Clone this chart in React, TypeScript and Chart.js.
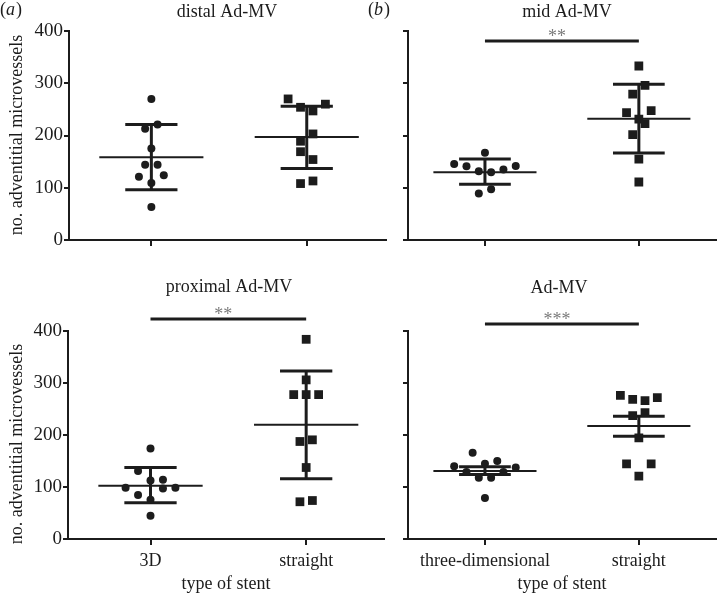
import React, { useEffect, useRef } from "react";
import { Chart, registerables } from "chart.js";

Chart.register(...registerables);

const FONT = "'Liberation Serif', 'Times New Roman', serif";
const INK = "#1c1c1c";
const STAR = "#7a7a7a";

// ---------- data ----------
const yTicks = [0, 100, 200, 300, 400];
const proximalCategories = ["3D", "straight"];
const adMVCategories = ["three-dimensional", "straight"];
const xAxisTitle = "type of stent";
const yAxisTitle = "no. adventitial microvessels";

const distal3D = [270, 213, 221, 175, 144, 144, 121, 124, 109, 63];
const distal3DJitter = [0, -0.04, 0.04, 0, -0.04, 0.04, -0.08, 0.08, 0, 0];
const distalStraight = [270, 254, 247, 260, 203, 189, 169, 154, 108, 113];
const distalStraightJitter = [-0.12, -0.04, 0.04, 0.12, 0.04, -0.04, -0.04, 0.04, -0.04, 0.04];
const distalMean = [158.5, 197];
const distalLow = [96, 137];
const distalHigh = [221, 256];

const mid3D = [167, 145.5, 141, 131.5, 129.5, 135, 141.6, 89, 97];
const mid3DJitter = [0, -0.2, -0.12, -0.04, 0.04, 0.12, 0.2, -0.04, 0.04];
const midStraight = [333, 296, 279, 244, 247.5, 231.5, 222.6, 201.5, 155, 111];
const midStraightJitter = [0, 0.04, -0.04, -0.08, 0.08, 0, 0.04, -0.04, 0, 0];
const midMean = [129.5, 232];
const midLow = [106.6, 166.5];
const midHigh = [155, 298];
const midSignificance = 381;

const proximal3D = [174, 130.6, 112.6, 114, 98.5, 97, 98.5, 84.5, 75.5, 44.7];
const proximal3DJitter = [0, -0.08, 0, 0.08, -0.16, 0.08, 0.16, -0.08, 0, 0];
const proximalStraight = [384, 306, 277.7, 277.7, 277.7, 187.5, 190.7, 137.5, 71.6, 74];
const proximalStraightJitter = [0, 0, -0.08, 0, 0.08, -0.04, 0.04, 0, -0.04, 0.04];
const proximalMean = [102.3, 219.5];
const proximalLow = [69.7, 115.8];
const proximalHigh = [137.5, 323];
const proximalSignificance = 423;

const adMV3D = [166, 140, 144.6, 150, 137.5, 129, 129, 118, 118, 79];
const adMV3DJitter = [-0.08, -0.2, 0, 0.08, 0.2, -0.12, 0.12, -0.04, 0.04, 0];
const adMVStraight = [276, 268.6, 266, 272, 237.3, 243, 194.5, 144.6, 144.6, 121];
const adMVStraightJitter = [-0.12, -0.04, 0.04, 0.12, -0.04, 0.04, 0, -0.08, 0.08, 0];
const adMVMean = [131, 217.5];
const adMVLow = [124, 197.8];
const adMVHigh = [139, 236];
const adMVSignificance = 413.6;

// ---------- panels (layout) ----------
const W = 722;
const H = 595;
const MEAN_HALF = 0.335;
const WHISKER_HALF = 0.168;

type Panel = {
  title: string;
  titleX: number;
  titleBase: number;
  letter?: string;
  letterX?: number;
  area: { left: number; right: number; top: number; bottom: number };
  xMin: number;
  xMax: number;
  labels: string[] | null;
  yLabels: boolean;
  yTitleY: number | null;
  g1: number[];
  j1: number[];
  g2: number[];
  j2: number[];
  mean: number[];
  low: number[];
  high: number[];
  sig: number | null;
  stars: string;
};

const panels: Panel[] = [
  {
    title: "distal Ad-MV", titleX: 227, titleBase: 17, letter: "a", letterX: 0,
    area: { left: 69, right: 386, top: 31, bottom: 240 }, xMin: -0.53, xMax: 1.51,
    labels: null, yLabels: true, yTitleY: 135,
    g1: distal3D, j1: distal3DJitter, g2: distalStraight, j2: distalStraightJitter,
    mean: distalMean, low: distalLow, high: distalHigh, sig: null, stars: "",
  },
  {
    title: "mid Ad-MV", titleX: 567, titleBase: 17, letter: "b", letterX: 368,
    area: { left: 408, right: 722, top: 31, bottom: 240 }, xMin: -0.5, xMax: 1.5,
    labels: null, yLabels: false, yTitleY: null,
    g1: mid3D, j1: mid3DJitter, g2: midStraight, j2: midStraightJitter,
    mean: midMean, low: midLow, high: midHigh, sig: midSignificance, stars: "**",
  },
  {
    title: "proximal Ad-MV", titleX: 229, titleBase: 292,
    area: { left: 68, right: 384, top: 331, bottom: 539 }, xMin: -0.53, xMax: 1.5,
    labels: proximalCategories, yLabels: true, yTitleY: 444,
    g1: proximal3D, j1: proximal3DJitter, g2: proximalStraight, j2: proximalStraightJitter,
    mean: proximalMean, low: proximalLow, high: proximalHigh, sig: proximalSignificance, stars: "**",
  },
  {
    title: "Ad-MV", titleX: 559, titleBase: 293,
    area: { left: 408, right: 722, top: 331, bottom: 539 }, xMin: -0.5, xMax: 1.5,
    labels: adMVCategories, yLabels: false, yTitleY: null,
    g1: adMV3D, j1: adMV3DJitter, g2: adMVStraight, j2: adMVStraightJitter,
    mean: adMVMean, low: adMVLow, high: adMVHigh, sig: adMVSignificance, stars: "***",
  },
];

function seg(points: { x: number; y: number }[], width: number, clip = true) {
  return {
    data: points,
    showLine: true,
    pointRadius: 0,
    borderColor: INK,
    backgroundColor: INK,
    borderWidth: width,
    fill: false,
    order: 1,
    clip: clip ? undefined : false,
  } as any;
}

function buildDatasets(p: Panel) {
  const ds: any[] = [];
  ds.push({
    data: p.g1.map((v, i) => ({ x: 0 + p.j1[i], y: v })),
    pointStyle: "circle",
    pointRadius: 4,
    backgroundColor: INK,
    borderWidth: 0,
    order: 0,
  });
  ds.push({
    data: p.g2.map((v, i) => ({ x: 1 + p.j2[i], y: v })),
    pointStyle: "rect",
    pointRadius: 6.2,
    backgroundColor: INK,
    borderWidth: 0,
    order: 0,
  });
  for (let c = 0; c < 2; c++) {
    ds.push(seg([{ x: c - MEAN_HALF, y: p.mean[c] }, { x: c + MEAN_HALF, y: p.mean[c] }], 2));
    ds.push(seg([{ x: c, y: p.low[c] }, { x: c, y: p.high[c] }], 3));
    ds.push(seg([{ x: c - WHISKER_HALF, y: p.high[c] }, { x: c + WHISKER_HALF, y: p.high[c] }], 3));
    ds.push(seg([{ x: c - WHISKER_HALF, y: p.low[c] }, { x: c + WHISKER_HALF, y: p.low[c] }], 3));
  }
  if (p.sig !== null) {
    ds.push(seg([{ x: 0, y: p.sig }, { x: 1, y: p.sig }], 3, false));
  }
  return ds;
}

function makeTextPlugin(p: Panel) {
  return {
    id: "panelText",
    afterDraw(chart: any) {
      const ctx = chart.ctx as CanvasRenderingContext2D;
      ctx.save();
      ctx.fillStyle = INK;
      ctx.textBaseline = "alphabetic";
      // panel title
      ctx.font = `18px ${FONT}`;
      ctx.textAlign = "center";
      ctx.fillText(p.title, p.titleX, p.titleBase);
      // panel letter
      if (p.letter) {
        ctx.textAlign = "left";
        let x = p.letterX || 0;
        ctx.font = `18px ${FONT}`;
        ctx.fillText("(", x, 15);
        x += ctx.measureText("(").width;
        ctx.font = `italic 18px ${FONT}`;
        ctx.fillText(p.letter, x, 15);
        x += ctx.measureText(p.letter).width + 1;
        ctx.font = `18px ${FONT}`;
        ctx.fillText(")", x, 15);
      }
      // y-axis title
      if (p.yTitleY !== null) {
        ctx.save();
        ctx.translate(17, p.yTitleY);
        ctx.rotate(-Math.PI / 2);
        ctx.textAlign = "center";
        ctx.textBaseline = "middle";
        ctx.font = `18px ${FONT}`;
        ctx.fillText(yAxisTitle, 0, 0);
        ctx.restore();
      }
      // significance stars
      if (p.sig !== null) {
        const xs = chart.scales.x;
        const ys = chart.scales.y;
        ctx.fillStyle = STAR;
        ctx.font = `18px ${FONT}`;
        ctx.textAlign = "center";
        ctx.textBaseline = "alphabetic";
        const cx = (xs.getPixelForValue(0) + xs.getPixelForValue(1)) / 2 - 5;
        ctx.fillText(p.stars, cx, ys.getPixelForValue(p.sig) + 1);
      }
      ctx.restore();
    },
  };
}

function PanelChart({ p }: { p: Panel }) {
  const ref = useRef<HTMLCanvasElement | null>(null);
  useEffect(() => {
    if (!ref.current) return;
    const hasLabels = !!p.labels;
    const xH = hasLabels ? H - p.area.bottom : 10;
    const yW = p.yLabels ? p.area.left : 10;
    const chart = new Chart(ref.current, {
      type: "scatter",
      data: { datasets: buildDatasets(p) },
      options: {
        responsive: false,
        animation: false,
        events: [],
        layout: {
          padding: {
            left: p.area.left - yW,
            right: W - p.area.right,
            top: p.area.top,
            bottom: H - p.area.bottom - xH,
          },
        },
        plugins: {
          legend: { display: false },
          tooltip: { enabled: false },
          title: { display: false },
        },
        scales: {
          x: {
            type: "linear",
            min: p.xMin,
            max: p.xMax,
            afterBuildTicks: (s: any) => {
              s.ticks = [{ value: 0 }, { value: 1 }];
            },
            afterFit: (s: any) => {
              s.height = xH;
            },
            grid: {
              drawOnChartArea: false,
              drawTicks: true,
              tickLength: 6,
              color: INK,
              tickColor: INK,
              lineWidth: 2,
            },
            border: { display: true, color: INK, width: 2 },
            ticks: {
              display: hasLabels,
              autoSkip: false,
              maxRotation: 0,
              padding: 5,
              color: INK,
              font: { family: FONT, size: 18 },
              callback: (_v: any, i: number) => (p.labels ? p.labels[i] : ""),
            },
            title: {
              display: hasLabels,
              text: xAxisTitle,
              color: INK,
              font: { family: FONT, size: 18 },
              padding: 0,
            },
          },
          y: {
            type: "linear",
            min: yTicks[0],
            max: yTicks[yTicks.length - 1],
            afterBuildTicks: (s: any) => {
              s.ticks = yTicks.map((v) => ({ value: v }));
            },
            afterFit: (s: any) => {
              s.width = yW;
            },
            grid: {
              drawOnChartArea: false,
              drawTicks: true,
              tickLength: 5,
              color: INK,
              tickColor: INK,
              lineWidth: 2,
            },
            border: { display: true, color: INK, width: 2 },
            ticks: {
              display: p.yLabels,
              padding: 1,
              color: INK,
              font: { family: FONT, size: 19 },
            },
          },
        },
      } as any,
      plugins: [makeTextPlugin(p)],
    });
    return () => chart.destroy();
  }, [p]);
  return (
    <canvas
      ref={ref}
      width={W}
      height={H}
      style={{ position: "absolute", left: 0, top: 0, width: W, height: H }}
    />
  );
}

export default function App() {
  return (
    <div
      style={{
        position: "fixed",
        left: 0,
        top: 0,
        width: W,
        height: H,
        background: "#ffffff",
        overflow: "hidden",
      }}
    >
      {panels.map((p, i) => (
        <PanelChart key={i} p={p} />
      ))}
    </div>
  );
}
